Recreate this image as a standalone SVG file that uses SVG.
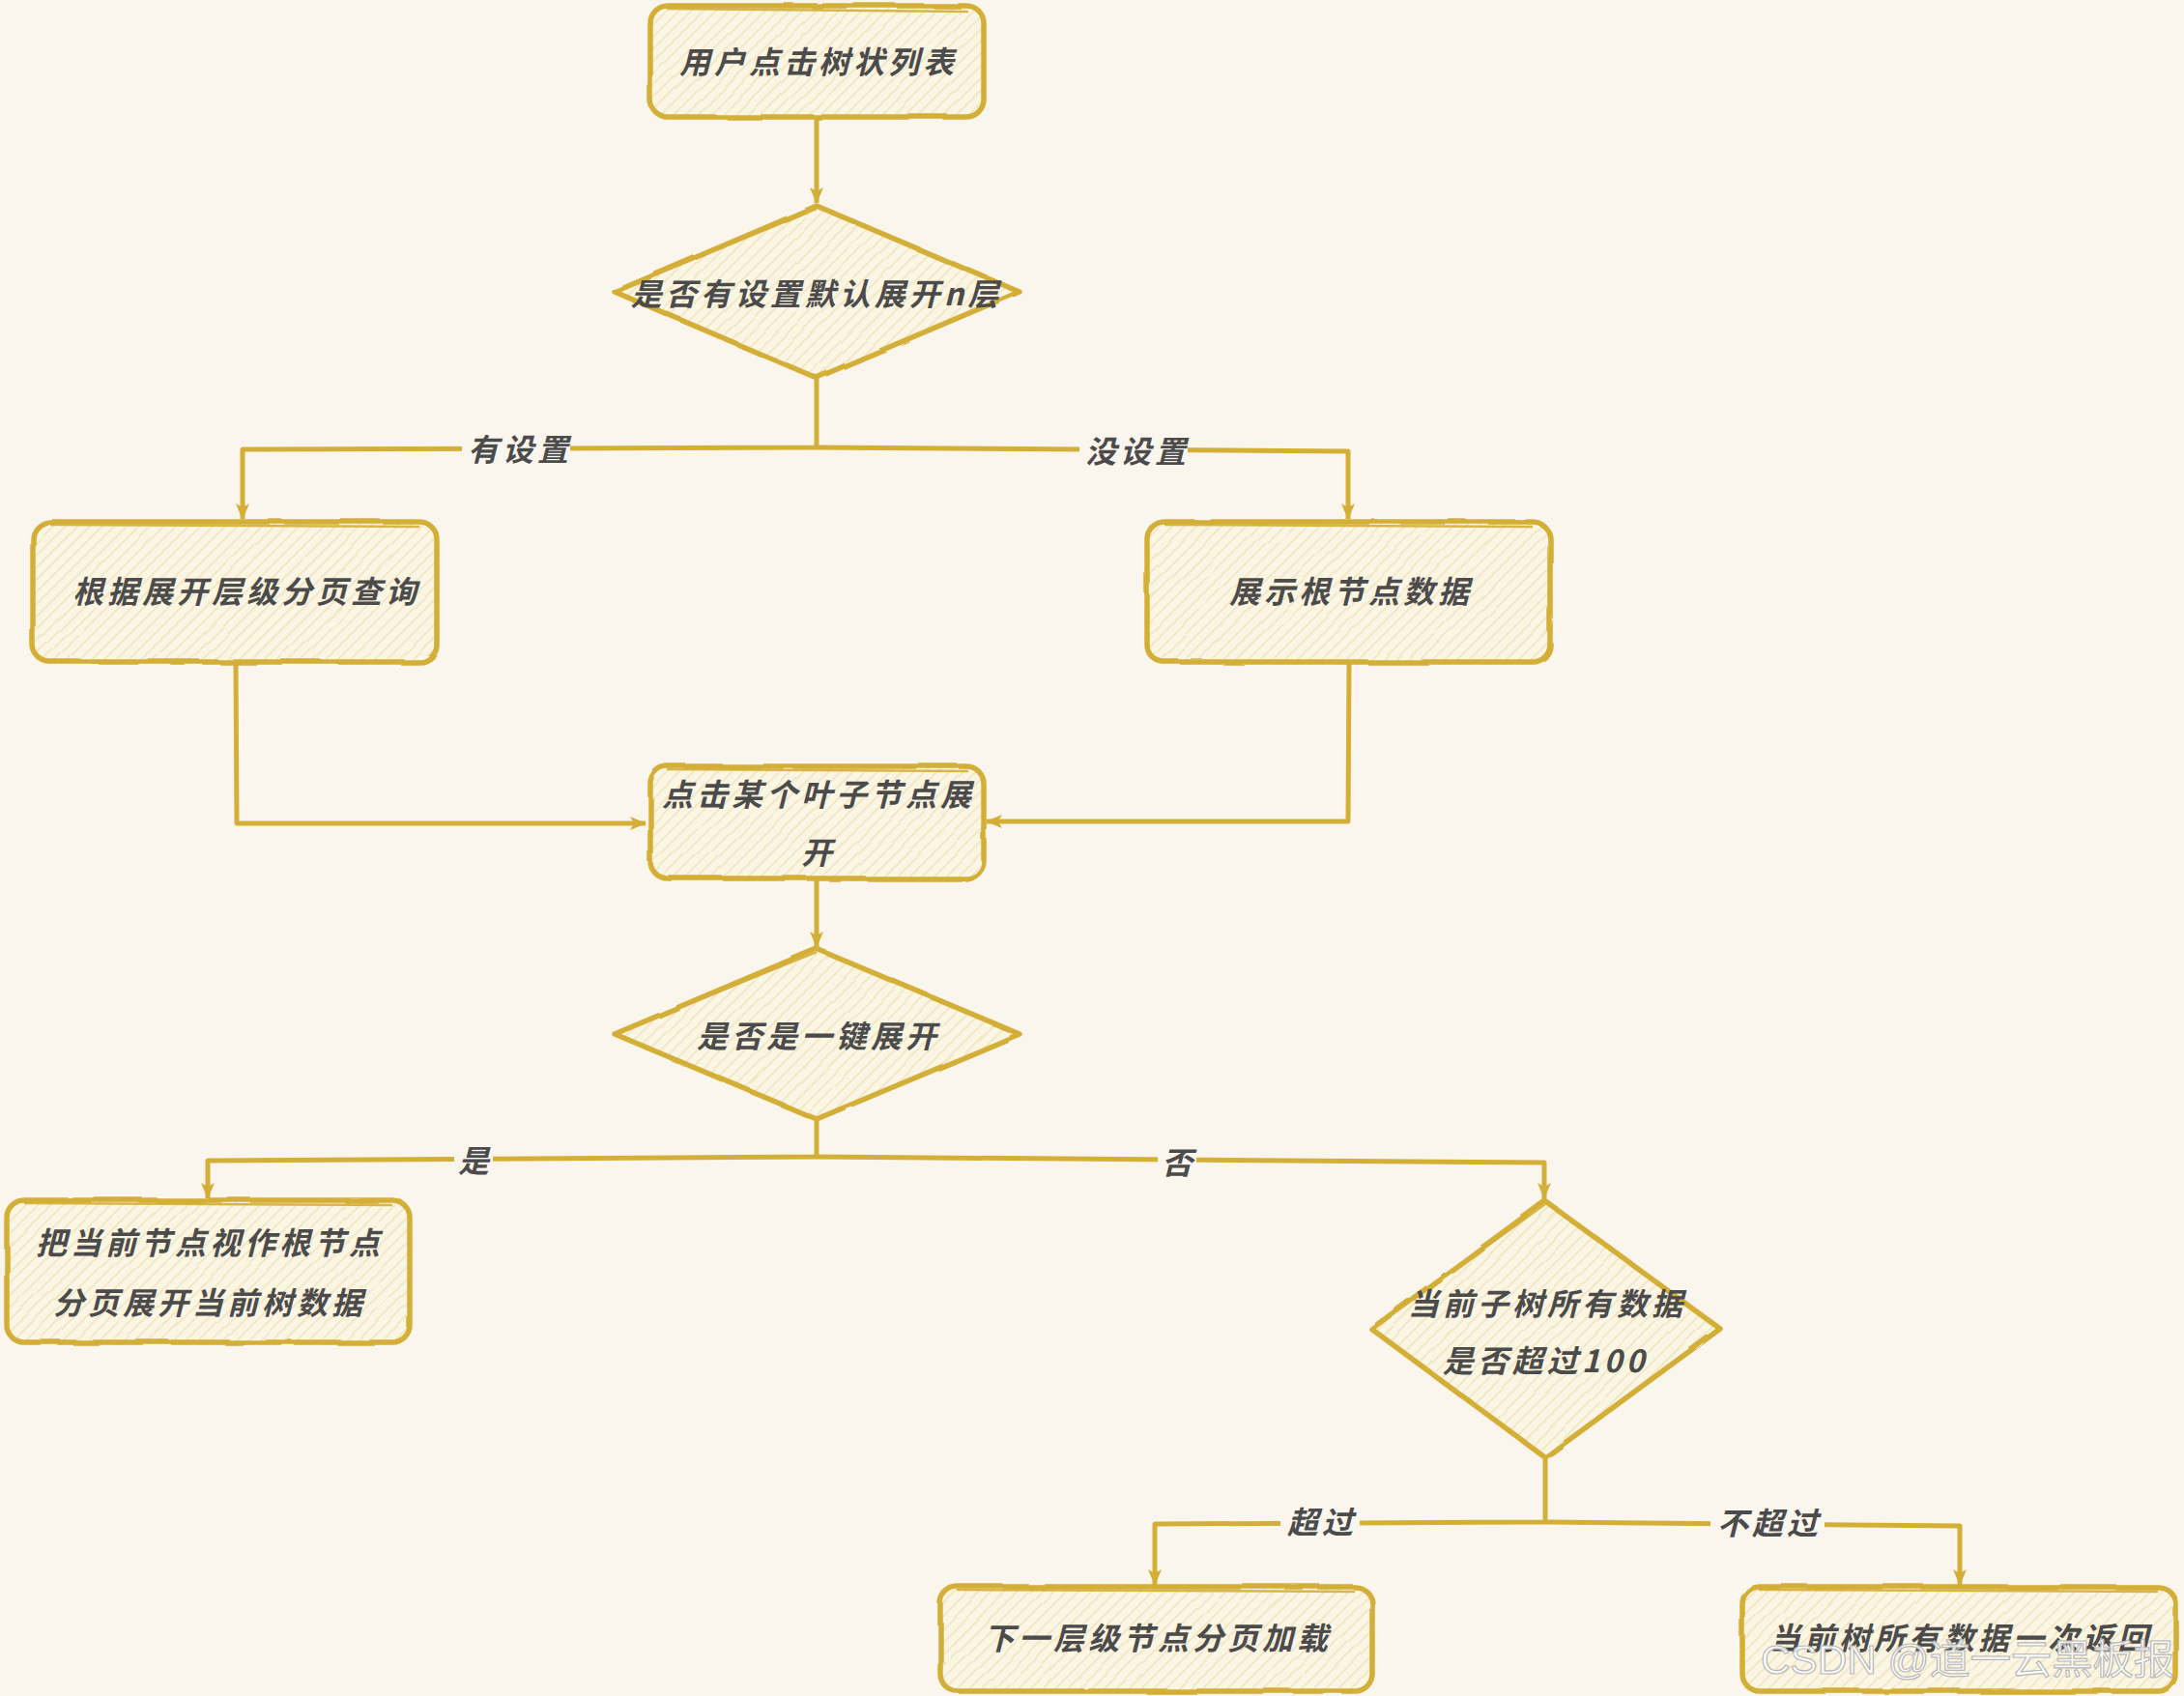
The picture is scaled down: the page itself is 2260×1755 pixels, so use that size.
<svg xmlns="http://www.w3.org/2000/svg" width="2260" height="1755" viewBox="0 0 2260 1755">
<defs>
<pattern id="hatch" width="9" height="9" patternUnits="userSpaceOnUse" patternTransform="rotate(45)">
<rect width="9" height="9" fill="#fbf5e4"/>
<line x1="0" y1="0" x2="0" y2="9" stroke="#f0e4bd" stroke-width="3"/>
</pattern>
<filter id="rough" x="-5%" y="-5%" width="110%" height="110%">
<feTurbulence type="fractalNoise" baseFrequency="0.015" numOctaves="2" seed="3"/>
<feDisplacementMap in="SourceGraphic" scale="4"/>
</filter>
<marker id="arr" markerWidth="18" markerHeight="14" refX="16" refY="7" orient="auto" markerUnits="userSpaceOnUse">
<path d="M0,0 L17,7 L0,14 L4,7 Z" fill="#d4af37"/>
</marker>
<style>
.box{fill:url(#hatch);stroke:#d4af37;stroke-width:5.5;stroke-linejoin:round}
.box2{fill:none;stroke:#d4af37;stroke-width:2.5;opacity:0.9}
.edge{fill:none;stroke:#d4af37;stroke-width:5;stroke-linejoin:round}
.t{font-family:"Noto Sans CJK SC","Noto Sans",sans-serif;font-weight:700;font-style:italic;font-size:32px;letter-spacing:4px;fill:#4b4b4b;text-anchor:middle;dominant-baseline:central}
.lblbg{fill:#faf6ee}
</style>
</defs>
<rect width="2260" height="1755" fill="#faf6ee"/>

<g id="connectors">
<path class="edge" d="M845,121 L845,210" marker-end="url(#arr)"/>
<path class="edge" d="M845,391 L845,463 L251,465 L251,537" marker-end="url(#arr)"/>
<path class="edge" d="M845,463 L1395,467 L1395,537" marker-end="url(#arr)"/>
<path class="edge" d="M244,686 L245,852 L668,852" marker-end="url(#arr)"/>
<path class="edge" d="M1396,686 L1395,850 L1021,850" marker-end="url(#arr)"/>
<path class="edge" d="M845,909 L845,980" marker-end="url(#arr)"/>
<path class="edge" d="M845,1158 L845,1197 L215,1201 L215,1240" marker-end="url(#arr)"/>
<path class="edge" d="M845,1197 L1598,1203 L1598,1240" marker-end="url(#arr)"/>
<path class="edge" d="M1599,1509 L1599,1575 L1195,1577 L1195,1640" marker-end="url(#arr)"/>
<path class="edge" d="M1599,1575 L2028,1579 L2028,1640" marker-end="url(#arr)"/>
<g id="edge-labels">
<rect class="lblbg" x="478" y="443" width="112" height="40"/>
<text class="t" x="538" y="463">有设置</text>
<rect class="lblbg" x="1117" y="445" width="112" height="40"/>
<text class="t" x="1177" y="465">没设置</text>
<rect class="lblbg" x="470" y="1180" width="40" height="40"/>
<text class="t" x="492" y="1199">是</text>
<rect class="lblbg" x="1198" y="1182" width="40" height="40"/>
<text class="t" x="1220" y="1201">否</text>
<rect class="lblbg" x="1325" y="1556" width="82" height="40"/>
<text class="t" x="1368" y="1573">超过</text>
<rect class="lblbg" x="1770" y="1558" width="118" height="40"/>
<text class="t" x="1831" y="1574">不超过</text>
</g>
</g>

<g id="n1">
<rect class="box" x="673" y="6" width="345" height="115" rx="18" filter="url(#rough)"/>
<path class="box2" d="M690,9 L1002,12"/>
<text class="t" x="847" y="62">用户点击树状列表</text>
</g>

<g id="n2">
<polygon class="box" points="845,213 1055,302 845,391 636,302" filter="url(#rough)"/>
<path class="box2" d="M640,300 L845,216"/>
<text class="t" x="845" y="302">是否有设置默认展开n层</text>
</g>

<g id="n3">
<rect class="box" x="34" y="540" width="418" height="145" rx="18" filter="url(#rough)"/>
<path class="box2" d="M52,543 L434,545"/>
<text class="t" x="255" y="610">根据展开层级分页查询</text>
</g>

<g id="n4">
<rect class="box" x="1187" y="540" width="417" height="145" rx="18" filter="url(#rough)"/>
<path class="box2" d="M1205,543 L1586,545"/>
<text class="t" x="1398" y="610">展示根节点数据</text>
</g>

<g id="n5">
<rect class="box" x="673" y="793" width="345" height="116" rx="18" filter="url(#rough)"/>
<path class="box2" d="M690,796 L1002,798"/>
<text class="t" x="847" y="820">点击某个叶子节点展</text>
<text class="t" x="847" y="880">开</text>
</g>

<g id="n6">
<polygon class="box" points="845,982 1055,1070 845,1158 636,1070" filter="url(#rough)"/>
<path class="box2" d="M640,1068 L845,985"/>
<text class="t" x="847" y="1070">是否是一键展开</text>
</g>

<g id="n7">
<rect class="box" x="7" y="1242" width="417" height="147" rx="18" filter="url(#rough)"/>
<path class="box2" d="M25,1245 L406,1247"/>
<text class="t" x="217" y="1284">把当前节点视作根节点</text>
<text class="t" x="217" y="1346">分页展开当前树数据</text>
</g>

<g id="n8">
<polygon class="box" points="1599,1243 1780,1375 1599,1508 1419,1375" filter="url(#rough)"/>
<path class="box2" d="M1423,1373 L1599,1246"/>
<text class="t" x="1601" y="1347">当前子树所有数据</text>
<text class="t" x="1599" y="1406">是否超过100</text>
</g>

<g id="n9">
<rect class="box" x="973" y="1642" width="447" height="108" rx="18" filter="url(#rough)"/>
<path class="box2" d="M990,1645 L1402,1647"/>
<text class="t" x="1198" y="1693">下一层级节点分页加载</text>
</g>

<g id="n10">
<rect class="box" x="1803" y="1642" width="448" height="108" rx="18" filter="url(#rough)"/>
<path class="box2" d="M1820,1645 L2233,1647"/>
<text class="t" x="2029" y="1693">当前树所有数据一次返回</text>
</g>

<text x="1822" y="1732" textLength="428" lengthAdjust="spacingAndGlyphs" font-family="'Liberation Sans','Noto Sans CJK SC',sans-serif" font-size="42" fill="#ffffff" fill-opacity="0.85" stroke="#b8b8b8" stroke-width="1.2">CSDN @道一云黑板报</text>
</svg>
